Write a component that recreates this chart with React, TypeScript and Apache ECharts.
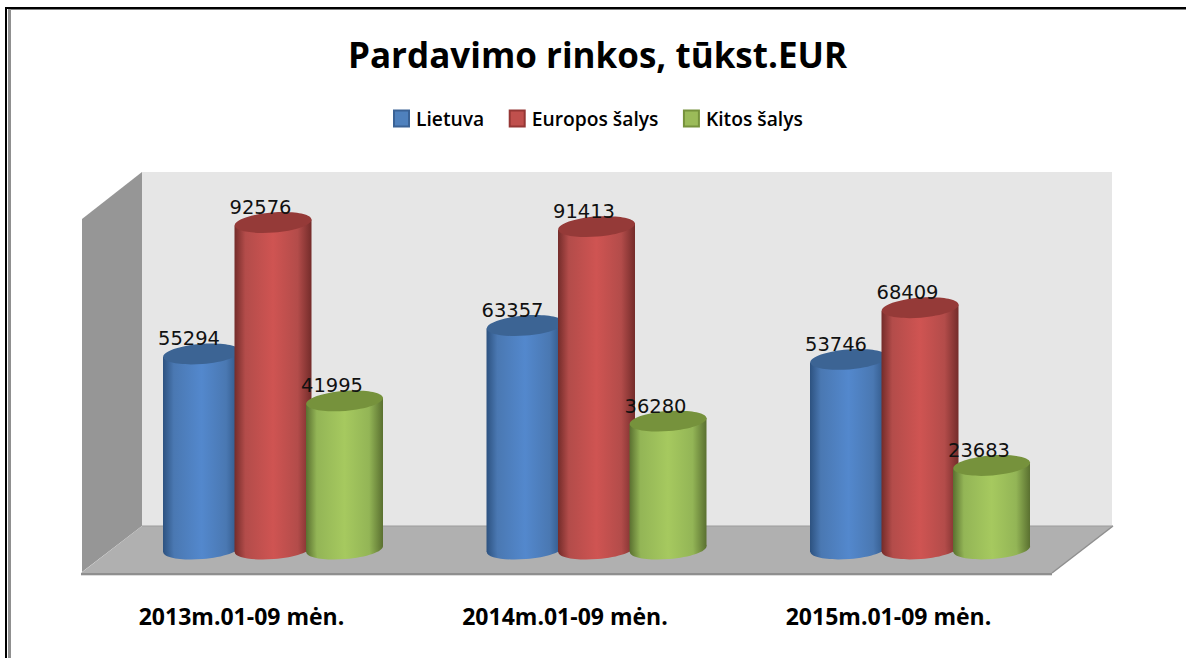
import React, { useEffect, useRef } from "react";
import * as echarts from "echarts";

const title = "Pardavimo rinkos, tūkst.EUR";
const categories = ["2013m.01-09 mėn.", "2014m.01-09 mėn.", "2015m.01-09 mėn."];
const seriesNames = ["Lietuva", "Europos šalys", "Kitos šalys"];
const lietuva = [55294, 63357, 53746];
const europos = [92576, 91413, 68409];
const kitos = [41995, 36280, 23683];

const palettes = [
  { edge: "#2d5280", mid: "#4a78b2", peak: "#5388cd", cap: "#3c6494", legend: "#4f81bd", border: "#3a6295" },
  { edge: "#742c2a", mid: "#b34c4a", peak: "#cf5452", cap: "#953a38", legend: "#c0504d", border: "#953735" },
  { edge: "#5a7030", mid: "#93b556", peak: "#a6c95f", cap: "#76923c", legend: "#9bbb59", border: "#76923c" },
];

const RADIUS = 38.5;
const CAP_RY = 10;
const TILT = 0.08;
const DEPTH_X = 33;
const STEP = 71.5;

function cylinder(seriesIdx: number) {
  const p = palettes[seriesIdx];
  return (_params: any, api: any) => {
    const idx = api.value(0);
    const val = api.value(1);
    const top = api.coord([idx, val]);
    const base = api.coord([idx, 0]);
    const cx = top[0] + DEPTH_X + (seriesIdx - 1) * STEP;
    const t = RADIUS * TILT;
    const gradient = new echarts.graphic.LinearGradient(0, 0, 1, 0, [
      { offset: 0, color: p.edge },
      { offset: 0.14, color: p.mid },
      { offset: 0.5, color: p.peak },
      { offset: 0.82, color: p.mid },
      { offset: 1, color: p.edge },
    ]);
    return {
      type: "group",
      children: [
        {
          type: "ellipse",
          shape: { cx, cy: base[1], rx: RADIUS, ry: CAP_RY },
          rotation: TILT,
          originX: cx,
          originY: base[1],
          style: { fill: gradient },
        },
        {
          type: "polygon",
          shape: {
            points: [
              [cx - RADIUS, top[1] + t],
              [cx + RADIUS, top[1] - t],
              [cx + RADIUS, base[1] - t],
              [cx - RADIUS, base[1] + t],
            ],
          },
          style: { fill: gradient },
        },
        {
          type: "ellipse",
          shape: { cx, cy: top[1], rx: RADIUS, ry: CAP_RY },
          rotation: TILT,
          originX: cx,
          originY: top[1],
          style: { fill: p.cap },
        },
        {
          type: "text",
          x: cx - 12.5,
          y: top[1] - 15,
          style: {
            text: String(val),
            fill: "#111",
            font: '19.5px "DejaVu Sans"',
            align: "center",
            verticalAlign: "middle",
          },
        },
      ],
    };
  };
}

export default function App() {
  const ref = useRef<HTMLDivElement>(null);
  useEffect(() => {
    const chart = echarts.init(ref.current!, null, { renderer: "svg" });
    const values = [lietuva, europos, kitos];
    chart.setOption({
      animation: false,
      backgroundColor: "#fff",
      title: {
        text: title,
        left: 343,
        top: 32,
        textStyle: { fontFamily: "Open Sans", fontWeight: "bold", fontSize: 35, color: "#000" },
      },
      legend: {
        left: 393,
        top: 109,
        padding: 0,
        itemWidth: 15,
        itemHeight: 16,
        itemGap: 24.5,
        textStyle: { fontFamily: "Open Sans", fontWeight: 600, fontSize: 19.25, color: "#000", padding: [0, 0, 0, 2] },
        data: seriesNames.map((name, i) => ({
          name,
          icon: "rect",
          itemStyle: { color: palettes[i].legend, borderColor: palettes[i].border, borderWidth: 2 },
        })),
      },
      grid: { left: 78.25, right: 137.25, top: 196.3, bottom: 109 },
      xAxis: {
        type: "category",
        data: categories,
        axisLine: { show: false },
        axisTick: { show: false },
        axisLabel: {
          margin: 55,
          padding: [0, 0, 0, 3],
          fontFamily: "Open Sans",
          fontWeight: "bold",
          fontSize: 23,
          color: "#000",
        },
      },
      yAxis: { type: "value", min: 0, max: 100000, show: false },
      graphic: [
        { type: "polygon", z: -1, shape: { points: [[82, 219], [142, 172], [142, 526], [82, 572]] }, style: { fill: "#969696" } },
        { type: "rect", z: -1, shape: { x: 142, y: 172, width: 970, height: 354 }, style: { fill: "#e6e6e6" } },
        { type: "polygon", z: -1, shape: { points: [[142, 526], [1113, 526], [1052, 573], [81, 573]] }, style: { fill: "#b0b0b0" } },
        { type: "line", z: -1, shape: { x1: 1113, y1: 526, x2: 1052, y2: 573 }, style: { stroke: "#8f8f8f", lineWidth: 1.5 } },
        { type: "line", z: -1, shape: { x1: 142, y1: 526, x2: 1113, y2: 526 }, style: { stroke: "#9c9c9c", lineWidth: 1 } },
        { type: "rect", z: -1, shape: { x: 81, y: 573, width: 971, height: 2 }, style: { fill: "#8f8f8f" } },
        { type: "rect", z: -1, shape: { x: 81, y: 575, width: 971, height: 1 }, style: { fill: "#dddddd" } },
        { type: "rect", z: 10, shape: { x: 5, y: 7, width: 1181, height: 2 }, style: { fill: "#000" } },
        { type: "rect", z: 10, shape: { x: 5, y: 7, width: 2, height: 651 }, style: { fill: "#000" } },
        { type: "rect", z: 10, shape: { x: 8, y: 9, width: 1178, height: 1 }, style: { fill: "#808080" } },
        { type: "rect", z: 10, shape: { x: 8, y: 9, width: 3, height: 649 }, style: { fill: "#909090" } },
      ],
      series: seriesNames.map((name, i) => ({
        type: "custom",
        name,
        z: 2 + i,
        itemStyle: { color: palettes[i].legend },
        renderItem: cylinder(i),
        encode: { x: 0, y: 1 },
        data: values[i].map((v, k) => [k, v]),
      })),
    });
    return () => chart.dispose();
  }, []);
  return <div ref={ref} style={{ position: "fixed", left: 0, top: 0, width: 1186, height: 658 }} />;
}
